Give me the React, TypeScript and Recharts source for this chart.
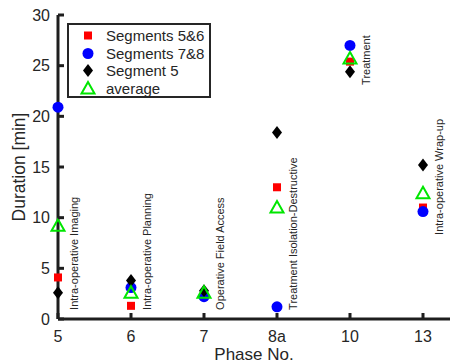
import { ScatterChart, Scatter, XAxis, YAxis, Legend, Label } from 'recharts'

const phases = ['5', '6', '7', '8a', '10', '13']
const segments56 = [4.1, 1.3, 2.4, 13.0, 25.4, 11.0]
const segments78 = [20.9, 3.1, 2.2, 1.2, 27.0, 10.6]
const segment5 = [2.6, 3.8, 2.8, 18.4, 24.4, 15.2]
const average = [9.2, 2.6, 2.6, 11.0, 25.7, 12.4]
const yTicks = [0, 5, 10, 15, 20, 25, 30]

const phaseNames = [
    'Intra-operative Imaging',
    'Intra-operative Planning',
    'Operative Field Access',
    'Treatment Isolation-Destructive',
    'Treatment',
    'Intra-operative Wrap-up',
]
const phaseNameY = [0.9, 0.9, 0.9, 0.9, 23.1, 8.3]

const FONT = '"Liberation Sans", Arial, Helvetica, sans-serif'
const INK = '#262626'
const FRAME = '#1e1e1e'
const RED = '#ff0000'
const BLUE = '#0000ff'
const GREEN = '#00e600'
const X_MAX = 5.37
const Y_MAX = 30

const xTicks = phases.map((_, i) => i)
const toPoints = (values: number[]) => values.map((y, i) => ({ x: i, y }))
const nameData = phaseNames.map((name, i) => ({ x: i + 0.22, y: phaseNameY[i], name }))

const Square = ({ cx, cy }: any) => <rect x={cx - 4} y={cy - 4} width={8} height={8} fill={RED} />
const Circle = ({ cx, cy }: any) => <circle cx={cx} cy={cy} r={5.5} fill={BLUE} />
const Diamond = ({ cx, cy }: any) => (
    <polygon points={`${cx},${cy - 6.5} ${cx + 5},${cy} ${cx},${cy + 6.5} ${cx - 5},${cy}`} fill="#000" />
)
const Triangle = ({ cx, cy }: any) => (
    <polygon
        points={`${cx},${cy - 6.5} ${cx + 6.5},${cy + 5} ${cx - 6.5},${cy + 5}`}
        fill="none"
        stroke={GREEN}
        strokeWidth={2}
    />
)

const PhaseName = ({ cx, cy, payload }: any) => (
    <text
        x={cx}
        y={cy}
        transform={`rotate(-90 ${cx} ${cy})`}
        dominantBaseline="central"
        fontSize={11}
        fontFamily={FONT}
        fill={INK}
    >
        {payload.name}
    </text>
)

// inward tick marks (MATLAB box style)
const BottomTick = ({ x, y, payload }: any) => (
    <g>
        <rect x={x - 1.5} y={y - 6} width={3} height={6} fill={FRAME} />
        <text x={x} y={y + 23} textAnchor="middle" fontSize={16} fontFamily={FONT} fill={INK}>
            {phases[payload.value]}
        </text>
    </g>
)
const TopTick = ({ x, y }: any) => <rect x={x - 1.5} y={y} width={3} height={6} fill={FRAME} />
const LeftTick = ({ x, y, payload }: any) => (
    <g>
        <rect x={x} y={y - 1.5} width={6} height={3} fill={FRAME} />
        <text x={x - 8} y={y} dy="0.36em" textAnchor="end" fontSize={16} fontFamily={FONT} fill={INK}>
            {payload.value}
        </text>
    </g>
)
const RightTick = ({ x, y }: any) => <rect x={x - 6} y={y - 1.5} width={6} height={3} fill={FRAME} />

const legendItems = [
    { name: 'Segments 5&6', Shape: Square },
    { name: 'Segments 7&8', Shape: Circle },
    { name: 'Segment 5', Shape: Diamond },
    { name: 'average', Shape: Triangle },
]

function LegendBox() {
    return (
        <div
            style={{
                boxSizing: 'border-box',
                width: 144,
                height: 75,
                border: `2px solid ${INK}`,
                background: '#fff',
                paddingTop: 2,
                fontFamily: FONT,
                fontSize: 15,
                color: INK,
            }}
        >
            {legendItems.map(({ name, Shape }) => (
                <div key={name} style={{ display: 'flex', alignItems: 'center', height: 17.5 }}>
                    <svg width={37} height={17} style={{ display: 'block' }}>
                        <Shape cx={19} cy={8.5} />
                    </svg>
                    <span style={{ lineHeight: '17px' }}>{name}</span>
                </div>
            ))}
        </div>
    )
}

const axisLine = { stroke: FRAME, strokeWidth: 3 }

export default function App() {
    return (
        <div style={{ position: 'absolute', left: 0, top: 0, width: 451, height: 363, background: '#fff' }}>
            <ScatterChart width={451} height={363} margin={{ top: 15, right: 1, bottom: 0, left: 0 }}>
                <XAxis
                    xAxisId="x"
                    type="number"
                    dataKey="x"
                    domain={[0, X_MAX]}
                    ticks={xTicks}
                    height={44}
                    tickSize={0}
                    tickMargin={0}
                    tickLine={false}
                    tick={<BottomTick />}
                    stroke={FRAME}
                    axisLine={axisLine}
                >
                    <Label
                        value="Phase No."
                        position="insideBottom"
                        offset={3}
                        fontSize={17}
                        fontFamily={FONT}
                        fill={INK}
                    />
                </XAxis>
                <XAxis
                    xAxisId="top"
                    orientation="top"
                    type="number"
                    dataKey="x"
                    domain={[0, X_MAX]}
                    ticks={xTicks}
                    height={0}
                    tickSize={0}
                    tickMargin={0}
                    tickLine={false}
                    tick={<TopTick />}
                    stroke={FRAME}
                    axisLine={axisLine}
                />
                <YAxis
                    yAxisId="y"
                    type="number"
                    dataKey="y"
                    domain={[0, Y_MAX]}
                    ticks={yTicks}
                    width={58}
                    tickSize={0}
                    tickMargin={0}
                    tickLine={false}
                    tick={<LeftTick />}
                    stroke={FRAME}
                    axisLine={axisLine}
                >
                    <Label
                        value="Duration [min]"
                        position="center"
                        angle={-90}
                        dx={-10}
                        fontSize={17.5}
                        fontFamily={FONT}
                        fill={INK}
                    />
                </YAxis>
                <YAxis
                    yAxisId="right"
                    orientation="right"
                    type="number"
                    dataKey="y"
                    domain={[0, Y_MAX]}
                    ticks={yTicks}
                    width={0}
                    tickSize={0}
                    tickMargin={0}
                    tickLine={false}
                    tick={<RightTick />}
                    stroke={FRAME}
                    axisLine={axisLine}
                />
                <Legend
                    layout="vertical"
                    align="center"
                    verticalAlign="middle"
                    wrapperStyle={{ left: 67, top: 23, width: 144 }}
                    content={() => <LegendBox />}
                />
                <Scatter xAxisId="x" yAxisId="y" data={nameData} shape={PhaseName} isAnimationActive={false} legendType="none" />
                <Scatter xAxisId="x" yAxisId="y" name="Segments 5&6" data={toPoints(segments56)} shape={Square} isAnimationActive={false} />
                <Scatter xAxisId="x" yAxisId="y" name="Segments 7&8" data={toPoints(segments78)} shape={Circle} isAnimationActive={false} />
                <Scatter xAxisId="x" yAxisId="y" name="Segment 5" data={toPoints(segment5)} shape={Diamond} isAnimationActive={false} />
                <Scatter xAxisId="x" yAxisId="y" name="average" data={toPoints(average)} shape={Triangle} isAnimationActive={false} />
            </ScatterChart>
        </div>
    )
}
